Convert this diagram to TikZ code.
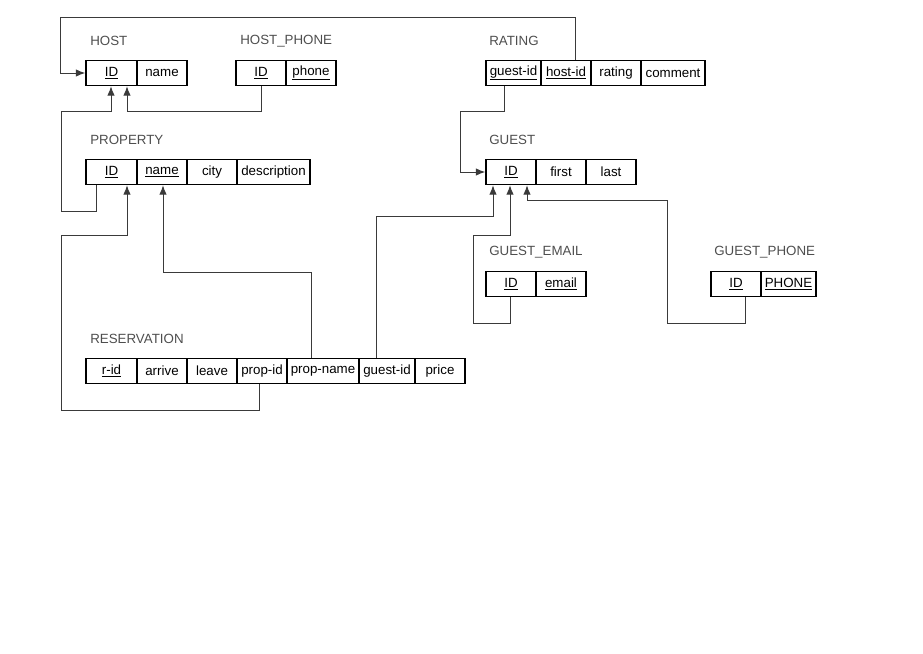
\documentclass[tikz,border=0pt]{standalone}
\usepackage{fontspec}
\setmainfont{Liberation Sans}
\usetikzlibrary{arrows.meta}
\definecolor{ln}{HTML}{3A3A3A}
\tikzset{
 cellbox/.style={draw=black,line width=1.1pt,inner sep=0pt,minimum height=18.75pt,font=\fontsize{10}{12}\selectfont,text=black},
 ttl/.style={anchor=west,inner sep=0pt,font=\fontsize{10}{12}\selectfont,text=ln!90},
 conn/.style={draw=ln,line width=0.7pt},
 arr/.style={conn,-{Latex[length=7pt,width=5.5pt]}}
}
\newcommand\cell[5]{\node[cellbox,minimum width={(#3-#2)*0.75pt}] (#1) at ({(#2+#3)/2},#4) {#5};}
\begin{document}
\begin{tikzpicture}[x=0.75pt,y=-0.75pt]
\useasboundingbox (0,0) rectangle (923,653);
% titles
\node[ttl] (tHost) at (90,41) {HOST};
\node[ttl] (tHP) at (240,41) {HOST\_PHONE};
\node[ttl] (tRat) at (489,41) {RATING};
\node[ttl] (tProp) at (90,140) {PROPERTY};
\node[ttl] (tGuest) at (489,140) {GUEST};
\node[ttl] (tGE) at (489,252) {GUEST\_EMAIL};
\node[ttl] (tGP) at (714,252) {GUEST\_PHONE};
\node[ttl] (tRes) at (90,339) {RESERVATION};
% HOST
\cell{hid}{86}{137}{73}{\underline{ID}}
\cell{hname}{137}{187}{73}{name}
% HOST_PHONE
\cell{hpid}{236}{286}{73}{\underline{ID}}
\cell{hpph}{286}{336}{73}{\underline{phone}}
% RATING
\cell{rg}{486}{541}{73}{\underline{guest-id}}
\cell{rh}{541}{591}{73}{\underline{host-id}}
\cell{rr}{591}{641}{73}{rating}
\cell{rc}{641}{705}{73}{comment}
% PROPERTY
\cell{pid}{86}{137}{172}{\underline{ID}}
\cell{pname}{137}{187}{172}{\underline{name}}
\cell{pcity}{187}{237}{172}{city}
\cell{pdesc}{237}{310}{172}{description}
% GUEST
\cell{gid}{486}{536}{172}{\underline{ID}}
\cell{gfirst}{536}{586}{172}{first}
\cell{glast}{586}{636}{172}{last}
% GUEST_EMAIL
\cell{geid}{486}{536}{284}{\underline{ID}}
\cell{gemail}{536}{586}{284}{\underline{email}}
% GUEST_PHONE
\cell{gpid}{711}{761}{284}{\underline{ID}}
\cell{gpph}{761}{816}{284}{\underline{PHONE}}
% RESERVATION
\cell{rid}{86}{137}{371}{\underline{r-id}}
\cell{rarr}{137}{187}{371}{arrive}
\cell{rlea}{187}{237}{371}{leave}
\cell{rpid}{237}{287}{371}{prop-id}
\cell{rpn}{287}{359}{371}{prop-name}
\cell{rgid}{359}{415}{371}{guest-id}
\cell{rpr}{415}{465}{371}{price}
% connectors
\draw[arr] (575,0 |- rh.north) -- (575,17) -- (60,17) |- (hid.west);
\draw[arr] (261,0 |- hpid.south) -- (261,111) -| (127,0 |- hid.south);
\draw[arr] (96,0 |- pid.south) -- (96,211) -- (61,211) -- (61,111) -| (111,0 |- hid.south);
\draw[arr] (259,0 |- rpid.south) -- (259,410) -- (61,410) -- (61,235) -| (127,0 |- pid.south);
\draw[arr] (311,0 |- rpn.north) -- (311,272) -| (163,0 |- pname.south);
\draw[arr] (376,0 |- rgid.north) -- (376,216) -| (493,0 |- gid.south);
\draw[arr] (504,0 |- rg.south) -- (504,111) -- (460,111) |- (gid.west);
\draw[arr] (510,0 |- geid.south) -- (510,323) -- (473,323) -- (473,235) -| (510,0 |- gid.south);
\draw[arr] (745,0 |- gpid.south) -- (745,323) -- (667,323) -- (667,200) -| (527,0 |- gid.south);
\end{tikzpicture}
\end{document}
